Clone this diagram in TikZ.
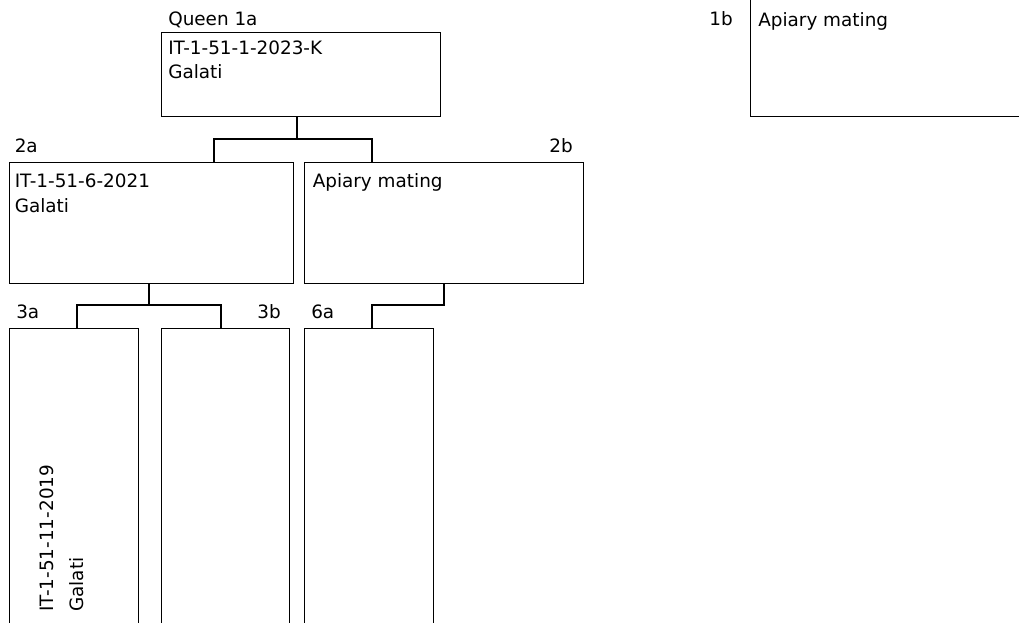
\documentclass[tikz,border=0pt]{standalone}
\usepackage{fontspec}
\setmainfont{DejaVu Sans}
\begin{document}
\begin{tikzpicture}[x=0.75pt,y=-0.75pt,
  box/.style={draw=black, rectangle, inner sep=0pt, anchor=north west, line width=1.1pt},
  txt/.style={inner sep=0pt, anchor=base west, font=\fontsize{13.8}{16}\selectfont, text=black},
  txtr/.style={txt, anchor=base east},
  link/.style={draw=black, line width=1.1pt}]
\useasboundingbox (0,0) rectangle (1019,622);
\clip (0,0) rectangle (1019,622);
\fill[white] (0,0) rectangle (1019,622);
% boxes
\node[box, minimum width=279*0.75pt, minimum height=84.5*0.75pt] (q1a) at (161,31.5) {};
\node[box, minimum width=300*0.75pt, minimum height=126*0.75pt] (q1b) at (750,-10) {};
\node[box, minimum width=284*0.75pt, minimum height=121*0.75pt] (q2a) at (8.5,162) {};
\node[box, minimum width=279*0.75pt, minimum height=121*0.75pt] (q2b) at (304,162) {};
\node[box, minimum width=129*0.75pt, minimum height=320*0.75pt] (q3a) at (9,328) {};
\node[box, minimum width=128.3*0.75pt, minimum height=320*0.75pt] (q3b) at (160.7,328) {};
\node[box, minimum width=129*0.75pt, minimum height=320*0.75pt] (q6a) at (304,328) {};
% labels and texts
\node[txt] (lq1a) at (168,25) {Queen 1a};
\node[txt] (t1a1) at (168,54.5) {IT-1-51-1-2023-K};
\node[txt] (t1a2) at (168,78.5) {Galati};
\node[txtr] (l1b) at (733,25) {1b};
\node[txt] (t1b) at (758,26) {Apiary mating};
\node[txt] (l2a) at (14.5,152) {2a};
\node[txt] (t2a1) at (14.5,187) {IT-1-51-6-2021};
\node[txt] (t2a2) at (14.5,212) {Galati};
\node[txtr] (l2b) at (573,152) {2b};
\node[txt] (t2b) at (312.5,187) {Apiary mating};
\node[txt] (l3a) at (16,318) {3a};
\node[txtr] (l3b) at (281,318) {3b};
\node[txt] (l6a) at (311,318) {6a};
\node[txt, rotate=90] (t3a1) at (53,612) {IT-1-51-11-2019};
\node[txt, rotate=90] (t3a2) at (83,612) {Galati};
% connectors
\coordinate (j1) at (297,139);
\coordinate (c2a) at (214,139);
\coordinate (c2b) at (372,139);
\draw[link] (j1 |- q1a.south) -- (j1);
\draw[link] (c2a |- q2a.north) -- (c2a) -- (c2b) -- (c2b |- q2b.north);
\coordinate (j2) at (149,305);
\coordinate (c3a) at (77,305);
\coordinate (c3b) at (221,305);
\draw[link] (j2 |- q2a.south) -- (j2);
\draw[link] (c3a |- q3a.north) -- (c3a) -- (c3b) -- (c3b |- q3b.north);
\coordinate (j3) at (444,305);
\coordinate (c6a) at (372,305);
\draw[link] (j3 |- q2b.south) -- (j3) -- (c6a) -- (c6a |- q6a.north);
\end{tikzpicture}
\end{document}
